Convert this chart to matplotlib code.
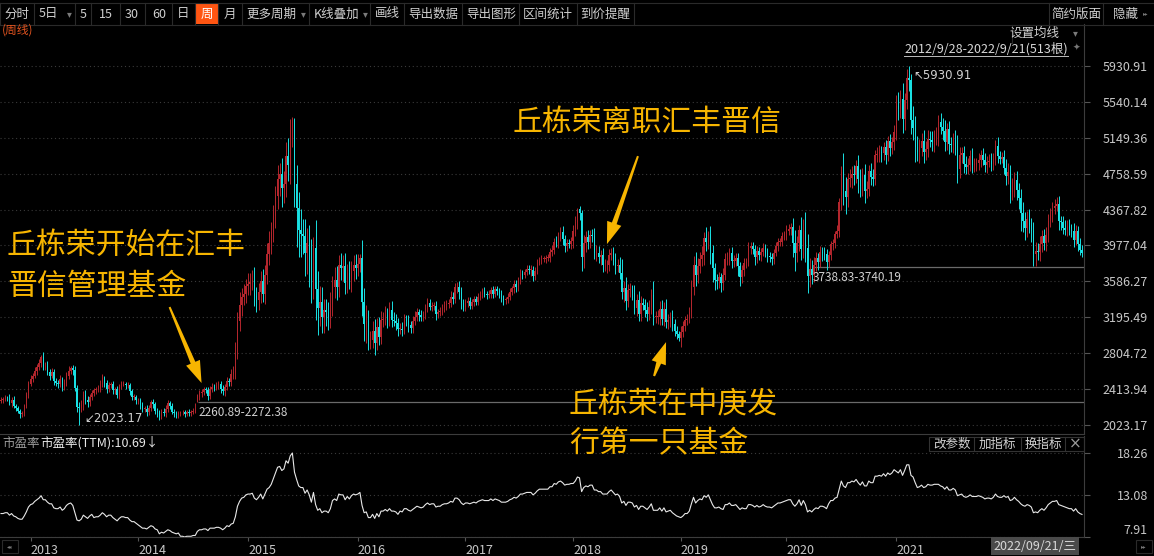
import numpy as np
import matplotlib
matplotlib.use('Agg')
import matplotlib.pyplot as plt
from matplotlib.patches import Polygon, Rectangle

plt.rcParams['font.family'] = ['Noto Sans CJK SC', 'DejaVu Sans']

# ---- 周线数据 2012/9/28 - 2022/9/21 (513根) ----
first_open = 2285
close_2012 = [2293, 2305, 2320, 2318, 2262, 2300, 2232, 2205, 2180, 2140, 2150, 2225, 2345, 2470]
up_2012 = [30, 25, 30, 20, 40, 25, 35, 20, 25, 20, 30, 25, 40, 35]
dn_2012 = [25, 30, 20, 35, 20, 40, 20, 30, 25, 40, 30, 25, 20, 30]
pe_2012 = [10.8, 10.8, 10.9, 10.9, 10.6, 10.8, 10.5, 10.4, 10.2, 10.1, 10.1, 10.5, 11.0, 11.6]

close_2013 = [2524, 2560, 2610, 2650, 2700, 2760, 2660, 2670, 2600, 2560,
              2600, 2500, 2480, 2470, 2520, 2440, 2480, 2560, 2610, 2640,
              2620, 2430, 2220, 2210, 2240, 2350, 2300, 2270, 2330, 2370,
              2400, 2410, 2420, 2470, 2530, 2480, 2410, 2460, 2470, 2400,
              2410, 2350, 2440, 2470, 2470, 2455, 2460, 2390, 2330, 2330,
              2290]
up_2013 = [40, 30, 45, 35, 40, 30, 60, 40, 50, 35,
           45, 30, 40, 35, 45, 30, 40, 35, 50, 30,
           40, 45, 30, 50, 60, 40, 55, 40, 35, 30,
           30, 25, 35, 40, 45, 30, 35, 30, 25, 35,
           30, 40, 25, 30, 35, 25, 30, 25, 20, 30,
           25]
dn_2013 = [25, 35, 30, 40, 30, 45, 40, 35, 30, 45,
           30, 45, 35, 40, 30, 50, 35, 30, 40, 35,
           50, 40, 60, 186.83, 40, 50, 45, 50, 40, 35,
           30, 35, 30, 40, 35, 45, 40, 30, 35, 40,
           35, 30, 40, 30, 25, 35, 30, 40, 35, 30,
           40]
pe_2013 = [11.9, 12.0, 12.3, 12.5, 12.7, 13.0, 12.5, 12.5, 12.2, 12.0,
           12.0, 11.5, 11.4, 11.4, 11.6, 11.2, 11.4, 11.8, 12.0, 12.1,
           11.8, 10.9, 10.0, 9.9, 10.1, 10.6, 10.4, 10.2, 10.5, 10.7,
           10.3, 10.4, 10.4, 10.6, 10.9, 10.7, 10.4, 10.6, 10.6, 10.3,
           10.1, 9.9, 10.2, 10.4, 10.4, 10.3, 10.3, 10.0, 9.8, 9.8,
           9.6]

close_2014 = [2290, 2240, 2200, 2200, 2160, 2210, 2270, 2250, 2180, 2150,
              2120, 2170, 2150, 2200, 2260, 2230, 2170, 2150, 2130, 2150,
              2160, 2160, 2140, 2170, 2150, 2165, 2180, 2185, 2325, 2370,
              2380, 2410, 2400, 2340, 2420, 2440, 2430, 2460, 2470, 2420,
              2390, 2440, 2500, 2490, 2580, 2600, 2810, 3150, 3330, 3420,
              3450, 3533]
up_2014 = [30, 25, 35, 30, 40, 35, 30, 40, 25, 30,
           35, 30, 40, 45, 30, 25, 35, 30, 25, 30,
           20, 25, 30, 20, 25, 20, 25, 75.89, 40, 30,
           35, 30, 25, 40, 30, 35, 25, 30, 30, 35,
           40, 30, 45, 35, 50, 60, 120, 100, 140, 90,
           110, 80]
dn_2014 = [35, 40, 30, 35, 40, 30, 35, 45, 40, 35,
           40, 35, 30, 35, 40, 35, 30, 40, 35, 30,
           25, 30, 35, 20, 25, 30, 20, 25, 0, 30,
           40, 35, 30, 45, 30, 40, 35, 30, 40, 45,
           40, 50, 35, 45, 40, 60, 80, 70, 100, 120,
           90, 100]
pe_2014 = [9.4, 9.2, 9.0, 9.0, 8.9, 9.1, 9.3, 9.2, 8.9, 8.8,
           8.3, 8.5, 8.4, 8.6, 8.8, 8.7, 8.5, 8.4, 8.3, 8.4,
           8.0, 8.0, 7.91, 8.0, 8.0, 8.0, 8.1, 8.1, 8.6, 8.8,
           8.8, 8.9, 8.9, 8.7, 9.0, 9.0, 9.0, 9.1, 9.1, 9.0,
           8.8, 9.0, 9.3, 9.2, 9.5, 9.6, 10.4, 11.7, 12.3, 12.7,
           12.8, 13.1]

close_2015 = [3560, 3580, 3600, 3430, 3380, 3470, 3590, 3450, 3660, 3880,
              4000, 4120, 4300, 4520, 4700, 4750, 4600, 4650, 4950, 4850,
              5230, 5340, 4650, 4380, 4150, 4100, 4080, 3900, 4000, 3820,
              3600, 3950, 3500, 3300, 3360, 3200, 3270, 3250, 3200, 3340,
              3530, 3600, 3530, 3760, 3730, 3750, 3570, 3680, 3600, 3700,
              3770, 3730]
up_2015 = [120, 100, 110, 140, 90, 100, 110, 130, 100, 120,
           130, 110, 120, 100, 150, 120, 180, 140, 150, 200,
           120, 40, 30, 200, 180, 220, 160, 190, 170, 200,
           230, 120, 300, 200, 180, 160, 130, 120, 110, 130,
           120, 140, 150, 110, 130, 120, 140, 100, 130, 110,
           100, 110]
dn_2015 = [100, 120, 90, 110, 130, 100, 120, 90, 110, 100,
           110, 120, 100, 130, 150, 180, 200, 160, 150, 170,
           200, 180, 250, 420, 300, 250, 200, 260, 230, 300,
           250, 200, 330, 300, 200, 180, 170, 150, 140, 120,
           130, 120, 150, 110, 130, 140, 120, 110, 100, 130,
           110, 120]
pe_2015 = [13.2, 13.2, 13.3, 12.7, 12.5, 12.8, 13.2, 12.6, 13.2, 13.8,
           14.0, 14.4, 15.1, 15.8, 16.5, 16.6, 16.1, 16.3, 17.3, 17.0,
           17.9, 18.26, 15.9, 15.0, 14.2, 14.0, 14.0, 13.3, 13.7, 13.1,
           12.2, 13.4, 11.9, 11.2, 11.4, 10.9, 11.1, 11.1, 10.9, 11.4,
           12.4, 12.6, 12.4, 13.2, 13.1, 13.1, 12.5, 12.9, 12.6, 13.0,
           13.2, 13.1]

close_2016 = [3780, 3840, 3360, 3120, 3150, 2950, 2950, 3050, 2920, 3090,
              2980, 3170, 3170, 3220, 3170, 3270, 3170, 3160, 3130, 3070,
              3070, 3060, 3170, 3160, 3110, 3080, 3150, 3200, 3250, 3220,
              3200, 3220, 3300, 3350, 3310, 3320, 3320, 3230, 3250, 3260,
              3300, 3330, 3340, 3350, 3420, 3400, 3520, 3530, 3470, 3350,
              3310]
up_2016 = [100, 40, 200, 150, 180, 120, 100, 110, 130, 100,
           110, 90, 80, 100, 80, 90, 100, 80, 70, 60,
           60, 70, 60, 50, 60, 50, 55, 60, 50, 40,
           50, 45, 40, 55, 50, 45, 40, 50, 40, 45,
           40, 45, 40, 50, 60, 55, 50, 45, 60, 50,
           40]
dn_2016 = [80, 90, 150, 180, 200, 110, 100, 90, 130, 80,
           90, 70, 80, 60, 90, 70, 80, 60, 70, 80,
           60, 70, 50, 60, 70, 60, 50, 40, 50, 60,
           50, 40, 45, 50, 40, 50, 45, 60, 40, 45,
           40, 45, 50, 40, 45, 60, 50, 55, 70, 60,
           50]
pe_2016 = [13.2, 13.4, 11.8, 10.9, 11.0, 10.3, 10.3, 10.7, 10.2, 10.8,
           10.4, 11.1, 11.1, 11.3, 11.1, 11.4, 11.1, 11.1, 11.0, 10.7,
           11.1, 11.0, 11.4, 11.4, 11.2, 11.1, 11.3, 11.5, 11.7, 11.6,
           11.5, 11.6, 11.9, 12.1, 11.9, 12.0, 12.0, 11.6, 11.7, 11.7,
           11.9, 12.0, 12.0, 12.1, 12.3, 12.2, 12.7, 12.7, 12.5, 12.1,
           11.9]

close_2017 = [3350, 3370, 3320, 3360, 3390, 3360, 3420, 3440, 3480, 3450,
              3440, 3450, 3490, 3450, 3500, 3480, 3450, 3400, 3380, 3390,
              3420, 3470, 3510, 3560, 3520, 3590, 3670, 3660, 3690, 3720,
              3710, 3710, 3640, 3700, 3790, 3820, 3830, 3830, 3840, 3840,
              3910, 3930, 4020, 4000, 4070, 4120, 4050, 3970, 4000, 3990,
              4030]
up_2017 = [40, 50, 45, 40, 35, 40, 45, 40, 35, 40,
           35, 40, 30, 45, 40, 35, 30, 40, 35, 30,
           35, 40, 30, 40, 45, 40, 50, 40, 35, 45,
           40, 50, 45, 40, 35, 30, 40, 35, 30, 40,
           45, 50, 40, 60, 50, 60, 70, 40, 50, 45,
           40]
dn_2017 = [50, 40, 35, 30, 40, 35, 30, 40, 35, 30,
           40, 35, 45, 40, 35, 40, 45, 40, 50, 35,
           40, 35, 30, 45, 50, 40, 35, 45, 40, 35,
           40, 60, 45, 40, 35, 30, 40, 35, 40, 35,
           40, 45, 50, 40, 50, 45, 70, 60, 50, 45,
           50]
pe_2017 = [12.1, 12.1, 12.0, 12.1, 12.2, 12.1, 12.3, 12.4, 12.5, 12.4,
           12.4, 12.4, 12.6, 12.4, 12.6, 12.5, 12.4, 12.2, 12.2, 12.2,
           12.3, 12.5, 12.6, 12.8, 12.7, 12.9, 13.2, 13.2, 13.3, 13.4,
           13.4, 13.4, 13.1, 13.3, 13.6, 13.8, 13.8, 13.8, 13.8, 13.8,
           14.1, 14.1, 14.5, 14.4, 14.7, 14.8, 14.6, 14.3, 14.4, 14.4,
           14.5]

close_2018 = [4140, 4230, 4370, 4330, 3850, 4000, 4070, 4020, 4090, 4080,
              3900, 3900, 3850, 3870, 3760, 3760, 3760, 3870, 3900, 3830,
              3750, 3770, 3680, 3470, 3510, 3370, 3490, 3490, 3460, 3300,
              3380, 3230, 3350, 3330, 3280, 3230, 3310, 3440, 3200, 3200,
              3200, 3290, 3180, 3290, 3140, 3170, 3200, 3120, 3050, 3010,
              2970]
up_2018 = [60, 70, 20, 33, 30, 90, 70, 80, 60, 70,
           90, 80, 70, 60, 80, 70, 60, 70, 50, 60,
           70, 60, 80, 150, 80, 120, 70, 80, 60, 90,
           70, 100, 80, 60, 70, 80, 70, 60, 150, 60,
           70, 80, 90, 70, 110, 60, 50, 70, 60, 50,
           40]
dn_2018 = [80, 60, 70, 80, 150, 120, 90, 80, 70, 60,
           70, 90, 60, 80, 70, 60, 80, 60, 50, 70,
           80, 60, 70, 80, 110, 90, 60, 70, 80, 70,
           90, 80, 70, 60, 80, 70, 60, 80, 90, 70,
           80, 90, 70, 80, 60, 70, 80, 70, 60, 50,
           35]
pe_2018 = [14.5, 14.8, 15.3, 15.2, 13.5, 14.0, 14.2, 14.1, 14.3, 14.3,
           13.7, 13.7, 13.5, 13.5, 13.2, 13.2, 13.2, 13.5, 13.7, 13.4,
           13.1, 13.2, 12.9, 12.1, 12.3, 11.8, 12.2, 12.2, 12.1, 11.6,
           11.8, 11.3, 11.7, 11.7, 11.5, 11.3, 11.6, 12.0, 11.2, 11.2,
           11.2, 11.5, 11.1, 11.5, 11.0, 11.1, 11.2, 10.9, 10.7, 10.5,
           10.4]

close_2019 = [3040, 3100, 3170, 3180, 3250, 3520, 3760, 3660, 3750, 3830,
              3870, 4060, 4010, 4100, 3900, 3730, 3600, 3590, 3630, 3570,
              3660, 3830, 3830, 3890, 3810, 3810, 3840, 3750, 3630, 3710,
              3790, 3800, 3950, 3970, 3940, 3850, 3920, 3870, 3910, 3950,
              3900, 3860, 3850, 3830, 3900, 3970, 4020, 4020, 4080, 4100]
up_2019 = [60, 50, 40, 50, 60, 80, 100, 150, 90, 80,
           100, 60, 120, 30, 90, 80, 60, 70, 60, 50,
           70, 60, 80, 60, 70, 60, 50, 60, 50, 60,
           50, 40, 60, 50, 50, 40, 50, 45, 40, 50,
           40, 50, 45, 50, 40, 50, 40, 35, 40, 30]
dn_2019 = [100, 60, 50, 60, 50, 60, 80, 120, 90, 70,
           80, 100, 90, 70, 120, 150, 110, 90, 80, 100,
           80, 60, 70, 60, 80, 70, 60, 100, 90, 60,
           70, 60, 50, 70, 60, 80, 60, 50, 60, 50,
           50, 60, 50, 60, 50, 40, 50, 45, 50, 40]
pe_2019 = [10.3, 10.5, 10.8, 10.8, 11.1, 12.0, 12.8, 12.1, 12.4, 12.6,
           12.5, 13.0, 12.8, 13.1, 12.5, 11.9, 11.5, 11.5, 11.6, 11.4,
           11.3, 11.9, 11.9, 12.1, 11.8, 11.8, 11.9, 11.6, 11.3, 11.5,
           11.4, 11.4, 11.9, 11.9, 11.8, 11.6, 11.8, 11.6, 11.7, 11.9,
           11.7, 11.6, 11.6, 11.5, 11.7, 11.9, 12.1, 12.1, 12.2, 12.3]

close_2020 = [4140, 4160, 4180, 4000, 3900, 4000, 4150, 3940, 4140, 3950,
              3650, 3720, 3660, 3770, 3840, 3800, 3910, 3890, 3880, 3800,
              3870, 3990, 4000, 4100, 4140, 4450, 4780, 4570, 4500, 4700,
              4710, 4760, 4740, 4840, 4700, 4620, 4740, 4570, 4590, 4790,
              4720, 4700, 4960, 4970, 5000, 4980, 5050, 4960, 5110, 5040,
              5100, 5210]
up_2020 = [60, 50, 40, 100, 150, 80, 50, 140, 120, 200,
           150, 120, 100, 80, 70, 60, 60, 50, 70, 60,
           50, 40, 50, 40, 60, 40, 60, 200, 150, 70,
           100, 80, 90, 70, 120, 110, 80, 120, 90, 60,
           80, 90, 60, 80, 70, 60, 50, 80, 60, 80,
           60, 80]
dn_2020 = [60, 50, 70, 150, 200, 100, 80, 120, 100, 150,
           190, 120, 100, 80, 70, 90, 60, 80, 60, 90,
           60, 50, 60, 50, 40, 70, 90, 150, 180, 100,
           90, 110, 100, 80, 150, 120, 100, 130, 80, 70,
           90, 80, 60, 70, 80, 90, 70, 100, 60, 90,
           70, 80]
pe_2020 = [12.4, 12.5, 12.5, 12.0, 11.7, 12.0, 12.5, 11.8, 12.4, 11.9,
           11.0, 11.2, 11.0, 11.3, 11.5, 11.4, 11.7, 11.7, 11.6, 11.4,
           12.0, 12.4, 12.4, 12.7, 12.8, 13.8, 14.8, 14.2, 14.0, 14.6,
           14.6, 14.8, 14.7, 15.0, 14.6, 14.3, 14.7, 14.2, 14.2, 14.8,
           14.6, 14.6, 15.4, 15.4, 15.5, 15.4, 15.7, 15.4, 15.8, 15.6,
           15.8, 16.2]

close_2021 = [5500, 5460, 5570, 5350, 5560, 5800, 5780, 5340, 5260, 5050,
              5000, 5040, 5110, 4990, 5030, 5140, 5120, 5100, 5150, 5150,
              5320, 5270, 5220, 5100, 5240, 5080, 5070, 5130, 5060, 4810,
              4960, 4980, 4860, 4830, 4850, 4950, 4850, 4850, 4870, 4910,
              4960, 4910, 4850, 4890, 4900, 4860, 4920, 5060, 4950, 4920,
              4940]
up_2021 = [120, 150, 100, 180, 80, 100, 130.91, 60, 150, 130,
           120, 100, 90, 120, 80, 90, 80, 100, 80, 120,
           80, 100, 90, 120, 70, 90, 80, 70, 100, 120,
           90, 70, 80, 90, 80, 70, 90, 80, 60, 70,
           60, 80, 70, 60, 70, 80, 60, 70, 100, 60,
           50]
dn_2021 = [90, 120, 100, 150, 120, 100, 120, 150, 130, 160,
           100, 120, 90, 110, 80, 90, 70, 90, 100, 80,
           90, 80, 100, 90, 80, 110, 80, 90, 100, 150,
           100, 80, 90, 80, 70, 60, 80, 70, 60, 70,
           80, 60, 70, 80, 60, 70, 60, 70, 80, 60,
           50]
pe_2021 = [16.0, 15.8, 16.2, 15.5, 16.1, 16.8, 16.8, 15.5, 15.3, 14.6,
           14.0, 14.1, 14.3, 14.0, 14.1, 14.4, 14.3, 14.3, 14.4, 14.4,
           14.4, 14.2, 14.1, 13.8, 14.1, 13.7, 13.7, 13.9, 13.7, 13.0,
           13.1, 13.2, 12.9, 12.8, 12.9, 13.1, 12.9, 12.9, 12.9, 13.0,
           12.9, 12.8, 12.6, 12.7, 12.7, 12.6, 12.8, 13.2, 12.9, 12.8,
           12.8]

close_2022 = [4820, 4730, 4780, 4560, 4600, 4690, 4580, 4490, 4330, 4240,
              4170, 4260, 4200, 4130, 3880, 3920, 3910, 3990, 4080, 4000,
              4090, 4240, 4310, 4390, 4410, 4430, 4240, 4230, 4170, 4150,
              4190, 4150, 4140, 4040, 4130, 3990, 3930, 3900]
up_2022 = [80, 100, 90, 70, 110, 90, 100, 80, 100, 120,
           100, 90, 110, 80, 100, 90, 80, 90, 70, 80,
           90, 80, 70, 60, 70, 80, 90, 60, 70, 80,
           60, 70, 60, 80, 70, 60, 70, 50]
dn_2022 = [70, 90, 80, 120, 90, 100, 110, 120, 200, 120,
           130, 100, 90, 110, 125, 130, 90, 100, 80, 70,
           80, 70, 60, 80, 70, 60, 90, 80, 70, 60,
           70, 60, 70, 80, 60, 70, 60, 50]
pe_2022 = [13.0, 12.8, 12.9, 12.4, 12.5, 12.8, 12.5, 12.3, 12.0, 11.8,
           11.7, 11.9, 11.8, 11.6, 10.9, 11.0, 10.9, 11.2, 11.4, 11.2,
           11.5, 11.9, 12.1, 12.3, 12.3, 12.4, 11.9, 11.8, 11.7, 11.6,
           11.5, 11.4, 11.4, 11.1, 11.4, 11.0, 10.8, 10.69]

# 缺口: (缺口后第一根, 前高, 后低)
gaps = [(93, 2260.89, 2272.38), (384, 3738.83, 3740.19)]
gap_opens = {93: 2272.38}

price_ticks = [2023.17, 2413.94, 2804.72, 3195.49, 3586.27, 3977.04,
               4367.82, 4758.59, 5149.36, 5540.14, 5930.91]
pe_ticks = [7.91, 13.08, 18.26]
year_labels = ['2013', '2014', '2015', '2016', '2017', '2018', '2019', '2020', '2021']

years = [2012, 2013, 2014, 2015, 2016, 2017, 2018, 2019, 2020, 2021, 2022]
closes = np.array(sum([globals()['close_%d' % y] for y in years], []), float)
up_w = np.array(sum([globals()['up_%d' % y] for y in years], []), float)
dn_w = np.array(sum([globals()['dn_%d' % y] for y in years], []), float)
pe = np.array(sum([globals()['pe_%d' % y] for y in years], []), float)
year_len = [len(globals()['close_%d' % y]) for y in years]
year_start = np.cumsum([0] + year_len)[1:-1]
n = len(closes)

opens = np.r_[first_open, closes[:-1]]
for k, v in gap_opens.items():
    opens[k] = v
highs = np.maximum(opens, closes) + up_w
lows = np.minimum(opens, closes) - dn_w
xs = np.arange(n)
rise = closes >= opens

UP = '#b3262d'
DOWN = '#19e0e3'
GRID = '#3a3a3a'
TXT = '#c8c8c8'
ANNO = '#f7b500'

W, H = 1154, 556
fig = plt.figure(figsize=(W / 100, H / 100), dpi=100, facecolor='black')
x0, x1 = -0.4736, 512.95
ax = fig.add_axes([0, (H - 434) / H, 1084 / W, 410 / H], facecolor='black')
pe_ax = fig.add_axes([0, (H - 537) / H, 1084 / W, 101 / H], facecolor='black')
ui = fig.add_axes([0, 0, 1, 1], facecolor='none')
ui.set_xlim(0, W)
ui.set_ylim(H, 0)
ui.axis('off')

# ---- K线 ----
ax.set_xlim(x0, x1)
ax.set_ylim(1925.3, 6387.7)
body_lo = np.minimum(opens, closes)
body_h = np.maximum(np.abs(closes - opens), 9)
ax.vlines(xs[rise], lows[rise], highs[rise], color=UP, lw=0.7, zorder=2)
ax.vlines(xs[~rise], lows[~rise], highs[~rise], color=DOWN, lw=0.7, zorder=2)
ax.bar(xs[rise], body_h[rise], bottom=body_lo[rise], width=0.66, color=UP, lw=0, zorder=3)
ax.bar(xs[~rise], body_h[~rise], bottom=body_lo[~rise], width=0.66, color=DOWN, lw=0, zorder=3)

ax.set_yticks(price_ticks, ['%.2f' % v for v in price_ticks], ha='right')
ax.yaxis.tick_right()
ax.tick_params(axis='y', length=4, width=0.8, color='#555555', pad=42, labelsize=9, labelcolor=TXT)
ax.set_xticks([])
ax.grid(axis='y', linestyle=(0, (1, 2.5)), color=GRID, lw=0.8)
for s in ['top', 'left']:
    ax.spines[s].set_visible(False)
ax.spines['right'].set_color('#3c3c3c')
ax.spines['bottom'].set_color('#3c3c3c')

for idx, lo_v, hi_v in gaps:
    ax.hlines(hi_v, idx + 0.4, x1, color='#6a6a6a', lw=0.9, zorder=1)
    ax.annotate('%.2f-%.2f' % (lo_v, hi_v), xy=(idx + 0.4, hi_v), xytext=(0, -7.5),
                textcoords='offset points', va='center', ha='left', fontsize=8.5, color='#d0d0d0')

i_lo = int(np.argmin(lows))
i_hi = int(np.argmax(highs))
ax.annotate('↙%.2f' % lows[i_lo], xy=(i_lo, lows[i_lo]), xytext=(4, 4.5), textcoords='offset points',
            va='center', ha='left', fontsize=8.5, color='#d0d0d0', family=['DejaVu Sans'])
ax.annotate('↖%.2f' % highs[i_hi], xy=(i_hi, highs[i_hi]), xytext=(3.5, -7.2), textcoords='offset points',
            va='center', ha='left', fontsize=8.5, color='#d0d0d0', family=['DejaVu Sans'])

# ---- 市盈率 ----
pe_ax.set_xlim(x0, x1)
pe_ax.set_ylim(7.91, 20.35)
pe_ax.plot(xs, pe, color='#e8e8e8', lw=0.8)
pe_ax.set_yticks(pe_ticks, ['%.2f' % v for v in pe_ticks], ha='right')
pe_ax.yaxis.tick_right()
pe_ax.tick_params(axis='y', length=4, width=0.8, color='#555555', pad=42, labelsize=9, labelcolor=TXT)
pe_ax.yaxis.get_major_ticks()[0].label2.set_va('bottom')
pe_ax.set_xticks(year_start[:len(year_labels)], year_labels, ha='left')
pe_ax.tick_params(axis='x', length=3, width=0.8, color='#555555', pad=2, labelsize=9, labelcolor=TXT)
pe_ax.grid(axis='y', linestyle=(0, (1, 2.5)), color=GRID, lw=0.8)
pe_ax.spines['top'].set_visible(False)
pe_ax.spines['left'].set_visible(False)
pe_ax.spines['right'].set_color('#3c3c3c')
pe_ax.spines['bottom'].set_color('#3c3c3c')

# ---- 工具栏 ----
line_c = '#2a2a2a'
ui.plot([0, W], [2.5, 2.5], color=line_c, lw=0.8)
ui.plot([0, W], [24.5, 24.5], color=line_c, lw=0.8)
edges = [0, 34, 75, 91, 120, 145, 172, 195, 218, 242, 309, 370, 404, 462, 519, 577, 634, 1049, 1103]
for e in edges:
    ui.plot([e, e], [2.5, 24.5], color=line_c, lw=0.8)
ui.add_patch(Rectangle((196, 3), 22, 21, color='#ff5512', lw=0))
tool_items = [('分时', 17), ('5日', 48), ('5', 83), ('15', 106), ('30', 132), ('60', 159), ('日', 183),
              ('周', 207), ('月', 230), ('更多周期', 271), ('K线叠加', 337), ('画线', 387),
              ('导出数据', 433), ('导出图形', 491), ('区间统计', 548), ('到价提醒', 605),
              ('简约版面', 1076), ('隐藏', 1126)]
for t, xc in tool_items:
    ui.text(xc, 14, t, ha='center', va='center', fontsize=9, color='#ffffff' if t == '周' else '#cfcfcf')
for xc in [69, 303, 365]:
    ui.text(xc, 14, '▾', ha='center', va='center', fontsize=7, color='#7a7a7a', family=['DejaVu Sans'])
ui.text(1146, 14, '▸▸', ha='center', va='center', fontsize=4, color='#777777', family=['DejaVu Sans'])

ui.text(2, 30, '(周线)', ha='left', va='center', fontsize=8.5, color='#e0531f')
ui.plot([1012, 1084], [24.5, 24.5], color=line_c, lw=0.8)
ui.plot([1012, 1012], [24.5, 43], color=line_c, lw=0.8)
ui.text(1059, 33, '设置均线', ha='right', va='center', fontsize=9, color='#cfcfcf')
ui.text(1075, 33, '▾', ha='center', va='center', fontsize=7, color='#7a7a7a', family=['DejaVu Sans'])
dr = ui.text(1068, 49, '2012/9/28-2022/9/21(%d根)' % n, ha='right', va='center', fontsize=9, color='#d8d8d8')
ui.text(1076, 48, '✦', ha='center', va='center', fontsize=6.5, color='#777777', family=['DejaVu Sans'])
fig.canvas.draw()
bb = dr.get_window_extent().transformed(ui.transData.inverted())
ui.plot([bb.x0, bb.x1], [56, 56], color='#bdbdbd', lw=0.7)

# ---- 指标栏 ----
ui.text(2, 443, '市盈率', ha='left', va='center', fontsize=9, color='#9a9a9a')
ui.text(40, 443, '市盈率(TTM):%.2f↓' % pe[-1], ha='left', va='center', fontsize=9, color='#e8e8e8')
ui.add_patch(Rectangle((929, 437), 155, 14, fill=False, ec='#333333', lw=0.8))
for e in [974, 1021, 1065]:
    ui.plot([e, e], [437, 451], color='#333333', lw=0.8)
for t, xc in [('改参数', 952), ('加指标', 997), ('换指标', 1043)]:
    ui.text(xc, 444, t, ha='center', va='center', fontsize=9, color='#d0d0d0')
ui.text(1075, 444, '×', ha='center', va='center', fontsize=11, color='#9a9a9a', family=['DejaVu Sans'])

# ---- 底部 ----
ui.add_patch(Rectangle((2, 540), 16, 13, fill=False, ec='#2a2a2a', lw=0.8))
ui.text(10, 546.5, '◂◂', ha='center', va='center', fontsize=4, color='#777777', family=['DejaVu Sans'])
ui.add_patch(Rectangle((1136, 540), 16, 13, fill=False, ec='#2a2a2a', lw=0.8))
ui.text(1144, 546.5, '▸▸', ha='center', va='center', fontsize=4, color='#777777', family=['DejaVu Sans'])
ui.text(1035, 546, '2022/09/21/三', ha='center', va='center', fontsize=9, color='#d8d8d8',
        bbox=dict(boxstyle='square,pad=0.2', fc='#4a4a4a', ec='none'))

# ---- 标注 ----
def to_ui(axes, xy):
    px, py = axes.transData.transform(xy)
    return np.array([px, H - py])


def fat_arrow(tail, tip, head_len=22, head_w=15, w0=2.0, w1=5.0):
    d = tip - tail
    d = d / np.hypot(*d)
    nrm = np.array([-d[1], d[0]])
    base = tip - d * head_len
    pts = [tail + nrm * w0 / 2, base + nrm * w1 / 2, base + nrm * head_w / 2, tip,
           base - nrm * head_w / 2, base - nrm * w1 / 2, tail - nrm * w0 / 2]
    ui.add_patch(Polygon(pts, closed=True, color=ANNO, lw=0, zorder=5))


# (指向的周, 指数点位, 尾部偏移像素)
arrows = [(95, 2480, (-32, -76)), (287, 3992, (31, -88)), (315, 2926, (-12, 34))]
for bar_i, val, off in arrows:
    tip = to_ui(ax, (bar_i, val))
    fat_arrow(tip + np.array(off, float), tip)

fs = 21.5
ui.text(7, 245, '丘栋荣开始在汇丰', ha='left', va='center', fontsize=fs, color=ANNO)
ui.text(7, 286, '晋信管理基金', ha='left', va='center', fontsize=fs, color=ANNO)
ui.text(513, 122, '丘栋荣离职汇丰晋信', ha='left', va='center', fontsize=fs, color=ANNO)
ui.text(569, 405, '丘栋荣在中庚发', ha='left', va='center', fontsize=fs, color=ANNO)
ui.text(569, 444, '行第一只基金', ha='left', va='center', fontsize=fs, color=ANNO)

fig.savefig('out.png', dpi=100, facecolor='black')
